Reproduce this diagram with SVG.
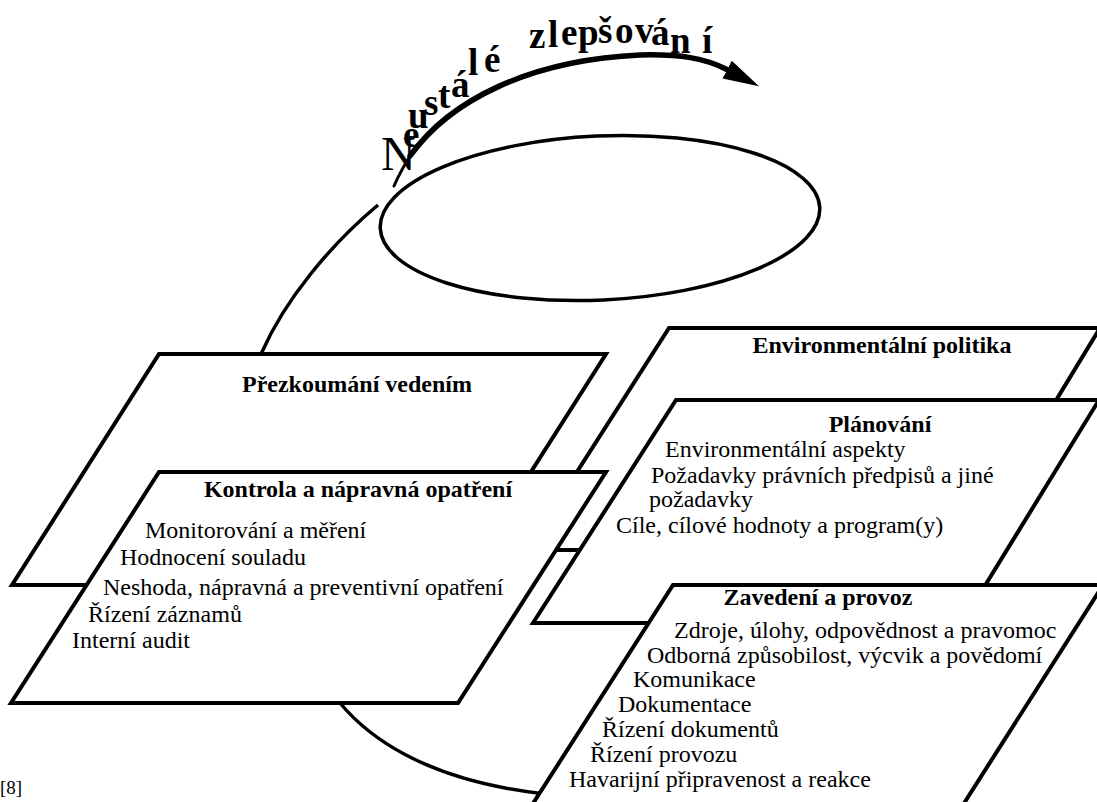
<svg xmlns="http://www.w3.org/2000/svg" width="1097" height="802" viewBox="0 0 1097 802">
<defs>
<style>
.box{fill:#fff;stroke:#000;stroke-width:4;stroke-linejoin:miter}
.t{font-family:"Liberation Serif","Times New Roman",serif;font-size:24px;fill:#000}
.b{font-weight:bold;text-anchor:middle}
.curve{fill:none;stroke:#000;stroke-width:3.5}
.arc{fill:none;stroke:#000;stroke-linecap:round}
.ell{fill:none;stroke:#000;stroke-width:3.5}
.arcl{font-family:"Liberation Serif","Times New Roman",serif;font-size:37px;font-weight:bold;fill:#000}
.arcN{font-size:48px;font-weight:normal}
</style>
<marker id="ah" markerUnits="userSpaceOnUse" markerWidth="36" markerHeight="22" viewBox="0 0 36 22" refX="1" refY="11" orient="auto"><path d="M0,1 L36,11 L0,21 z" fill="#000"/></marker>
</defs>
<rect width="1097" height="802" fill="#fff"/>
<g id="connectors">
<path class="curve" d="M378,205 C330,245 285,300 262,352 C240,400 225,500 250,580 C275,650 320,685 340,703 C365,733 420,780 545,794"/>
<path class="arc" stroke-width="3" d="M394,186 C400,172 406,162 414,150"/>
<path class="arc" stroke-width="5.5" d="M410,156 C450,100 530,60 640,55 C680,54 705,58 728,70" marker-end="url(#ah)"/>
</g>
<g id="label-improvement">
<text class="arcl"><tspan class="arcN" x="381" y="170">N</tspan><tspan x="403 408 424 438 451 468 484" y="147 128 115 108 97 75 72">eustálé</tspan> <tspan x="529 548 561 578 598 615 635 651 670 702" y="48 47 45 45 43 43 43 45 53 53">zlepšování</tspan></text>
</g>
<g id="node-cycle">
<ellipse class="ell" cx="600" cy="218" rx="220" ry="82" transform="rotate(-2.7 600 218)"/>
</g>
<g id="node-politika">
<polygon class="box" points="669,328 1100,328 965,550 527,550"/>
<text class="t b" x="882" y="353">Environmentální politika</text>
</g>
<g id="node-planovani">
<polygon class="box" points="676,400 1099,400 962,623 533,623"/>
<text class="t b" x="880" y="432">Plánování</text>
<text class="t" x="665" y="457">Environmentální aspekty</text>
<text class="t" x="651" y="483">Požadavky právních předpisů a jiné</text>
<text class="t" x="649" y="507">požadavky</text>
<text class="t" x="616" y="533">Cíle, cílové hodnoty a program(y)</text>
</g>
<g id="node-zavedeni">
<polygon class="box" points="673,585 1103,585 947,830 516,830"/>
<text class="t b" x="818" y="605">Zavedení a provoz</text>
<text class="t" x="674" y="638">Zdroje, úlohy, odpovědnost a pravomoc</text>
<text class="t" x="647" y="663">Odborná způsobilost, výcvik a povědomí</text>
<text class="t" x="633" y="687">Komunikace</text>
<text class="t" x="618" y="712">Dokumentace</text>
<text class="t" x="602" y="737">Řízení dokumentů</text>
<text class="t" x="590" y="762">Řízení provozu</text>
<text class="t" x="569" y="787">Havarijní připravenost a reakce</text>
</g>
<g id="node-prezkoumani">
<polygon class="box" points="159,354 606,354 459,585 12,585"/>
<text class="t b" x="357" y="392">Přezkoumání vedením</text>
</g>
<g id="node-kontrola">
<polygon class="box" points="159,472 606,472 458,703 11,703"/>
<text class="t b" x="358" y="497">Kontrola a nápravná opatření</text>
<text class="t" x="145" y="538">Monitorování a měření</text>
<text class="t" x="120" y="565">Hodnocení souladu</text>
<text class="t" x="103" y="595">Neshoda, nápravná a preventivní opatření</text>
<text class="t" x="88" y="622">Řízení záznamů</text>
<text class="t" x="72" y="648">Interní audit</text>
</g>
<text class="t" x="0" y="794" style="font-size:19px">[8]</text>
</svg>
